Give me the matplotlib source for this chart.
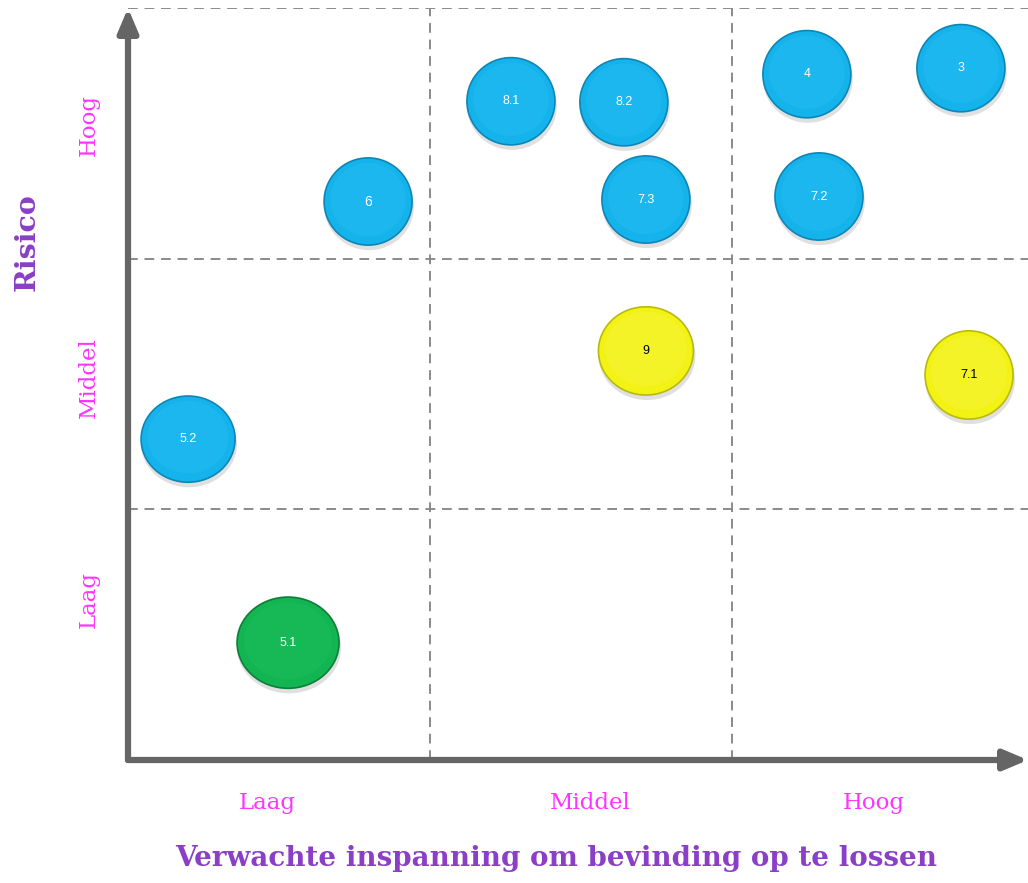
import matplotlib
matplotlib.use("Agg")
import matplotlib.pyplot as plt
from matplotlib.patches import Ellipse, FancyArrowPatch

# ---- data ----
labels = ["6", "8.1", "8.2", "7.3", "4", "3", "7.2", "9", "7.1", "5.2", "5.1"]
effort = [0.795, 1.268, 1.642, 1.715, 2.248, 2.758, 2.288, 1.715, 2.785, 0.199, 0.530]
risk = [2.228, 2.628, 2.624, 2.236, 2.736, 2.760, 2.248, 1.632, 1.536, 1.280, 0.468]
status = ["blue", "blue", "blue", "blue", "blue", "blue", "blue", "yellow", "yellow", "blue", "green"]
levels = ["Laag", "Middel", "Hoog"]
x_title = "Verwachte inspanning om bevinding op te lossen"
y_title = "Risico"

# ---- styles ----
W, H, DPI = 1028, 883, 100
fig = plt.figure(figsize=(W / DPI, H / DPI), dpi=DPI)
ax_l, ax_r, ax_t, ax_b = 128, 1028, 8, 760
ax = fig.add_axes([ax_l / W, 1 - ax_b / H, (ax_r - ax_l) / W, (ax_b - ax_t) / H])
col_px, row_px = 302, 250
ax.set_xlim(0, (ax_r - ax_l) / col_px)
ax.set_ylim(0, 3)
ax.axis("off")

fills = {"blue": "#14B3EC", "yellow": "#F2F215", "green": "#12B551"}
edges = {"blue": "#0E86B5", "yellow": "#B9B90E", "green": "#0C7F39"}
highs = {"blue": "#2BC0F2", "yellow": "#F7F74A", "green": "#1FC262"}
txtc = {"blue": "white", "yellow": "black", "green": "white"}
sizes = {"blue": (88, 87), "yellow": (94, 88), "green": (102, 91)}
size_override = {"5.2": (94, 86), "9": (95, 88), "7.1": (88, 88)}

dash = dict(color="#8a8a8a", lw=1.4, ls=(0, (5, 3.5)), zorder=1)
for xv in [1, 2]:
    ax.plot([xv, xv], [0, 3], **dash)
for yv in [1, 2, 3]:
    ax.plot([0, ax.get_xlim()[1]], [yv, yv], **dash)

# axes arrows
arrow_kw = dict(arrowstyle="-|>,head_length=1.3,head_width=0.55", color="#656565",
                lw=4.5, mutation_scale=11, zorder=2, shrinkA=0, shrinkB=0)
ax.add_patch(FancyArrowPatch((0, 0), (0, 3), transform=ax.transData, clip_on=False, **arrow_kw))
ax.add_patch(FancyArrowPatch((0, 0), (ax.get_xlim()[1], 0), transform=ax.transData, clip_on=False, **arrow_kw))

for lab, x, y, s in zip(labels, effort, risk, status):
    wpx, hpx = size_override.get(lab, sizes[s])
    w, h = wpx / col_px, hpx / row_px
    # shadow
    ax.add_patch(Ellipse((x + 1 / col_px, y - 5 / row_px), w * 1.02, h * 1.0,
                         facecolor="#000000", alpha=0.12, lw=0, zorder=3))
    ax.add_patch(Ellipse((x, y), w, h, facecolor=fills[s], edgecolor=edges[s],
                         lw=1.2, zorder=4))
    ax.add_patch(Ellipse((x, y + 2 / row_px), w * 0.86, h * 0.84, facecolor=highs[s],
                         alpha=0.35, lw=0, zorder=5))
    ax.text(x, y, lab, color=txtc[s], fontsize=9 if lab != "6" else 10,
            family="Liberation Sans", ha="center", va="center", zorder=6)

mag = "#FF33FF"
pur = "#8A3FC6"
for i, (lv, xc) in enumerate(zip(levels, [267, 590, 874])):
    fig.text(xc / W, 1 - 803 / H, lv, color=mag, fontsize=16.5, family="DejaVu Serif",
             ha="center", va="center")
for lv, yc in zip(levels, [600, 378, 125]):
    fig.text(89 / W, 1 - yc / H, lv, color=mag, fontsize=16.5, family="DejaVu Serif",
             ha="center", va="center", rotation=90)

fig.text(556 / W, 1 - 859 / H, x_title, color=pur, fontsize=20, family="DejaVu Serif",
         weight="bold", ha="center", va="center")
fig.text(27 / W, 1 - 242 / H, y_title, color=pur, fontsize=20.5, family="DejaVu Serif",
         weight="bold", ha="center", va="center", rotation=90)

fig.savefig("out.png", dpi=DPI)
